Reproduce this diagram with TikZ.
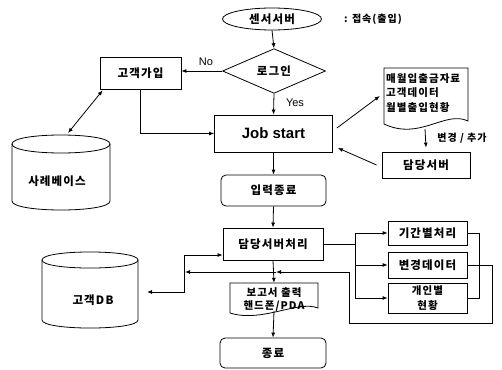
\documentclass[tikz,border=0pt]{standalone}
\usepackage{fontspec}
\setmainfont{Noto Sans CJK KR}
\newfontfamily\kfont[LetterSpace=10]{Noto Sans CJK KR}
\newfontfamily\lat{Liberation Sans}
\usetikzlibrary{shapes.geometric,arrows.meta,calc}
\tikzset{
  ln/.style={line width=0.8pt},
  kt/.style={font=\kfont\bfseries\fontsize{11.5}{14}\selectfont},
  box/.style={draw, ln, rectangle, inner sep=1pt, kt},
  rbox/.style={box, rounded corners=5pt},
  arr/.style={ln, -{Latex[length=5pt,width=4pt]}},
  darr/.style={ln, {Latex[length=5pt,width=4pt]}-{Latex[length=5pt,width=4pt]}},
  lbl/.style={font=\lat\fontsize{11}{13}\selectfont, inner sep=0pt}
}
\begin{document}
\begin{tikzpicture}[x=1pt,y=-1pt]
\useasboundingbox (0,0) rectangle (502,369);
% nodes
\node[draw, ln, ellipse, minimum width=99pt, minimum height=22pt, inner sep=0pt, kt] (sensor) at (272,19) {센서서버};
\node[inner sep=0pt, font=\kfont\bfseries\fontsize{10}{12}\selectfont] (conn) at (373,19) {: 접속(출입)};
\node[draw, ln, diamond, minimum width=103pt, minimum height=35pt, inner sep=0pt, kt] (login) at (274,71) {로그인};
\node[box, minimum width=81pt, minimum height=32pt] (gaip) at (140.5,73) {고객가입};
\node[box, minimum width=118pt, minimum height=37pt, font=\lat\bfseries\fontsize{15}{18}\selectfont] (job) at (273.5,133.5) {Job start};
\node[rbox, minimum width=105pt, minimum height=31pt] (ipr) at (273.5,190.5) {입력종료};
\node[box, minimum width=100pt, minimum height=32pt] (chr) at (273,244) {담당서버처리};
\node[box, minimum width=88pt, minimum height=26pt] (dam) at (426,165) {담당서버};
\node[box, minimum width=79pt, minimum height=24pt] (gi) at (427.5,233) {기간별처리};
\node[box, minimum width=79pt, minimum height=26pt] (byeon) at (427.5,265) {변경데이터};
\node[box, minimum width=79pt, minimum height=30pt, align=center, font=\kfont\bfseries\fontsize{10.5}{15}\selectfont] (gae) at (427.5,298) {개인별\\현황};
\node[rbox, minimum width=106pt, minimum height=30pt] (end) at (273,353) {종료};
% document 1
\node[minimum width=84pt, minimum height=56pt, inner sep=0pt] (doc1) at (426,96) {};
\draw[ln] (384,68) -- (468,68) -- (468,121) .. controls (445,110) and (420,141) .. (384,124) -- cycle;
\node[anchor=north west, align=left, inner sep=0pt, font=\kfont\bfseries\fontsize{10.5}{14.5}\selectfont] at (386,73) {매월입출금자료\\고객데이터\\월별출입현황};
% document 2
\node[minimum width=88pt, minimum height=28pt, inner sep=0pt] (rep) at (274,297) {};
\draw[ln] (230,283) -- (318,283) -- (318,308) .. controls (298,300) and (262,323) .. (230,313) -- cycle;
\node[align=center, inner sep=0pt, font=\kfont\bfseries\fontsize{10.5}{13.5}\selectfont] at (274,299.5) {보고서 출력\\핸드폰/PDA};
% cylinder 1
\draw[ln] (12,144) .. controls (12,132) and (110,132) .. (110,144) .. controls (110,156) and (12,156) .. (12,144);
\draw[ln] (12,144) -- (12,201) .. controls (12,213) and (110,213) .. (110,201) -- (110,144);
\node[kt, inner sep=0pt] (db1) at (57,181) {사례베이스};
\coordinate (db1top) at (68,133);
% cylinder 2
\draw[ln] (42,260) .. controls (42,249.3) and (138,249.3) .. (138,260) .. controls (138,270.7) and (42,270.7) .. (42,260);
\draw[ln] (42,260) -- (42,320) .. controls (42,330.7) and (138,330.7) .. (138,320) -- (138,260);
\node[kt, inner sep=0pt] (db2) at (93,300) {고객DB};
\coordinate (db2r) at (147,292);
% labels
\node[lbl] (no) at (206,62) {No};
\node[lbl] (yes) at (295,103) {Yes};
\node[inner sep=0pt, font=\kfont\bfseries\fontsize{10}{12}\selectfont] (chg) at (462,138) {변경 / 추가};
% connectors
\draw[arr] (sensor.south) -- (login.north);
\draw[arr] (login.west) -- (login.west -| gaip.east);
\draw[arr] (login.south) -- (job.north);
\draw[arr] (gaip.south) |- (job.west);
\draw[darr] ([xshift=3pt,yshift=-1pt]gaip.south west) -- (db1top);
\draw[arr] ([xshift=4pt,yshift=5.5pt]job.east) -- ([xshift=-4pt]doc1.west);
\draw[arr] (425,129) -- ([yshift=4pt]dam.north);
\draw[arr] ([xshift=-5pt]dam.west) -- ([xshift=5pt,yshift=-14.5pt]job.east);
\draw[arr] (job.south) -- (ipr.north);
\draw[arr] (ipr.south) -- (chr.north);
\coordinate (bus) at (355,244);
\draw[ln] (chr.east) -- (bus);
\draw[arr] (bus) |- (gi.west);
\draw[arr] (bus) -- (bus |- byeon.west) -- (byeon.west);
\draw[arr] (bus) |- (gae.west);
\draw[ln] (gi.east) -- (479,233) |- (gae.east);
\coordinate (loopin) at (276,272);
\coordinate (dbjoin) at (185,272);
\draw[arr] (byeon.east) -- (492,265) -- (492,323) -- (349,323) -- (349,272) -- (loopin);
\draw[arr] (loopin) -- (dbjoin);
\draw[darr] (db2r) -- (184,292) |- ([yshift=-11pt]chr.west);
\draw[arr] (chr.south) -- (rep.north);
\draw[arr] (rep.south) -- (end.north);
\end{tikzpicture}
\end{document}
